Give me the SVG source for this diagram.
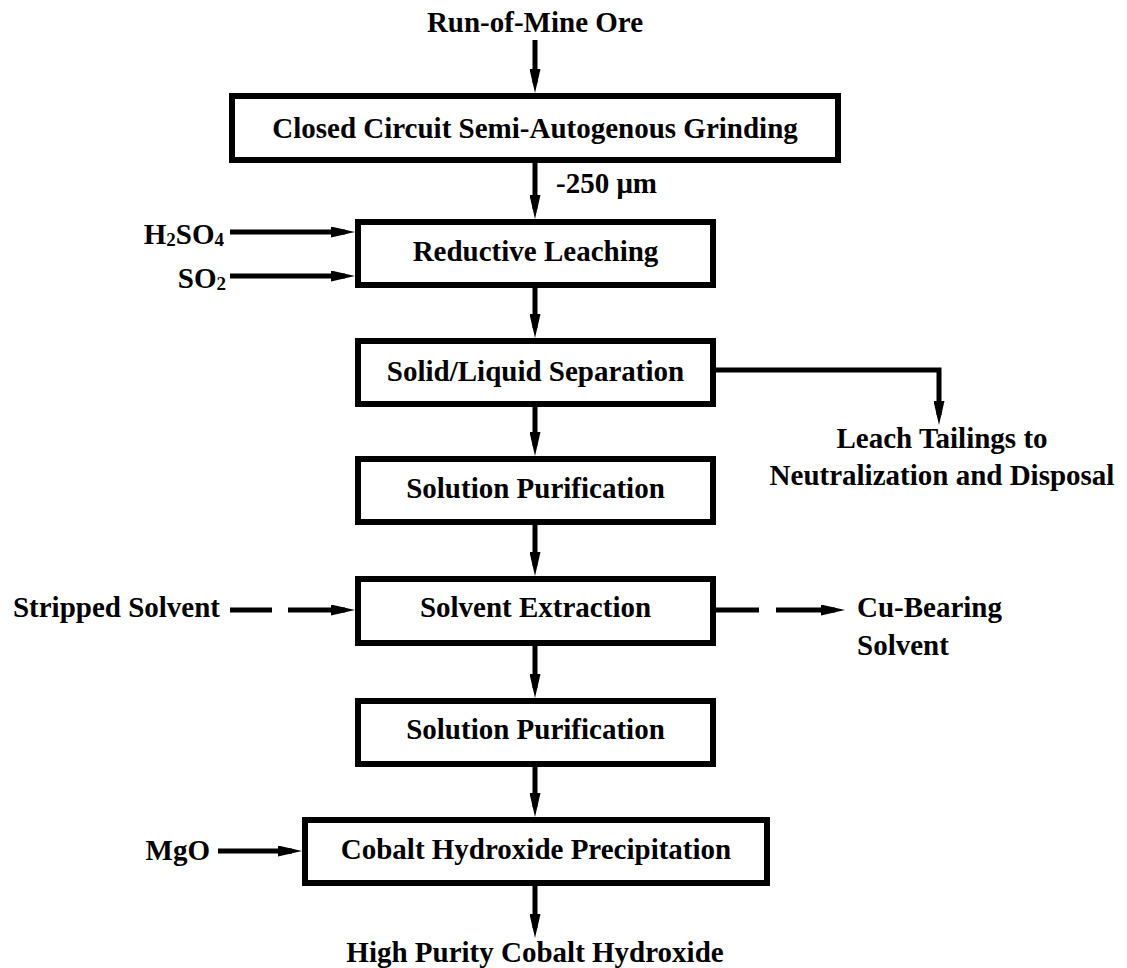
<svg xmlns="http://www.w3.org/2000/svg" width="1127" height="968" viewBox="0 0 1127 968">
<style>
text{font-family:"Liberation Serif","Times New Roman",serif;font-weight:bold;font-size:29px;fill:#000}
.c{text-anchor:middle}
.e{text-anchor:end}
.box{fill:#fff;stroke:#000;stroke-width:6}
.ln{fill:none;stroke:#000;stroke-width:5}
.dash{stroke-dasharray:42 16 300}
.sub{font-size:19px}
</style>
<defs>
<marker id="ah" markerUnits="userSpaceOnUse" viewBox="0 0 24 11" refX="14" refY="5.5" markerWidth="24" markerHeight="11" orient="auto">
<path d="M0,0 L24,5.5 L0,11 Z" fill="#000"/>
</marker>
</defs>
<rect width="1127" height="968" fill="#fff"/>
<g id="connectors">
<path class="ln" d="M535,40 V83" marker-end="url(#ah)"/>
<path class="ln" d="M535,162 V209" marker-end="url(#ah)"/>
<path class="ln" d="M535,286 V328" marker-end="url(#ah)"/>
<path class="ln" d="M535,406 V446" marker-end="url(#ah)"/>
<path class="ln" d="M535,524 V566" marker-end="url(#ah)"/>
<path class="ln" d="M535,645 V688" marker-end="url(#ah)"/>
<path class="ln" d="M535,766 V807" marker-end="url(#ah)"/>
<path class="ln" d="M535,885 V928" marker-end="url(#ah)"/>
<path class="ln" d="M230,232 H345" marker-end="url(#ah)"/>
<path class="ln" d="M230,276 H345" marker-end="url(#ah)"/>
<path class="ln" d="M218,851 H292" marker-end="url(#ah)"/>
<path class="ln" d="M715,370 H939 V415" marker-end="url(#ah)"/>
<path class="ln dash" d="M230,610 H345" marker-end="url(#ah)"/>
<path class="ln" style="stroke-dasharray:43 17 300" d="M716,610 H835" marker-end="url(#ah)"/>
</g>
<g id="input-ore"><text class="c" x="535" y="32">Run-of-Mine Ore</text></g>
<g id="grinding">
<rect class="box" x="232" y="96" width="606" height="64"/>
<text class="c" x="535" y="138">Closed Circuit Semi-Autogenous Grinding</text>
</g>
<g id="size-label"><text x="556" y="193">-250 μm</text></g>
<g id="h2so4"><text class="e" x="224" y="244">H<tspan class="sub" dy="2">2</tspan><tspan dy="-2">SO</tspan><tspan class="sub" dy="2">4</tspan></text></g>
<g id="so2"><text class="e" x="226" y="288">SO<tspan class="sub" dy="2">2</tspan></text></g>
<g id="leaching">
<rect class="box" x="358" y="222" width="355" height="63"/>
<text class="c" x="535.5" y="261">Reductive Leaching</text>
</g>
<g id="separation">
<rect class="box" x="358" y="341" width="355" height="63"/>
<text class="c" x="535.5" y="381">Solid/Liquid Separation</text>
</g>
<g id="tailings">
<text class="c" x="942" y="448">Leach Tailings to</text>
<text class="c" x="942" y="485">Neutralization and Disposal</text>
</g>
<g id="purification1">
<rect class="box" x="358" y="459" width="355" height="63"/>
<text class="c" x="535.5" y="498">Solution Purification</text>
</g>
<g id="stripped-solvent"><text class="e" x="220" y="617">Stripped Solvent</text></g>
<g id="solvent-extraction">
<rect class="box" x="358" y="579" width="355" height="64"/>
<text class="c" x="535.5" y="617">Solvent Extraction</text>
</g>
<g id="cu-solvent">
<text x="857" y="617">Cu-Bearing</text>
<text x="857" y="655">Solvent</text>
</g>
<g id="purification2">
<rect class="box" x="358" y="701" width="355" height="63"/>
<text class="c" x="535.5" y="739">Solution Purification</text>
</g>
<g id="mgo"><text class="e" x="210" y="860">MgO</text></g>
<g id="precipitation">
<rect class="box" x="305" y="820" width="462" height="63"/>
<text class="c" x="536" y="859">Cobalt Hydroxide Precipitation</text>
</g>
<g id="product"><text class="c" x="535" y="962">High Purity Cobalt Hydroxide</text></g>
</svg>
